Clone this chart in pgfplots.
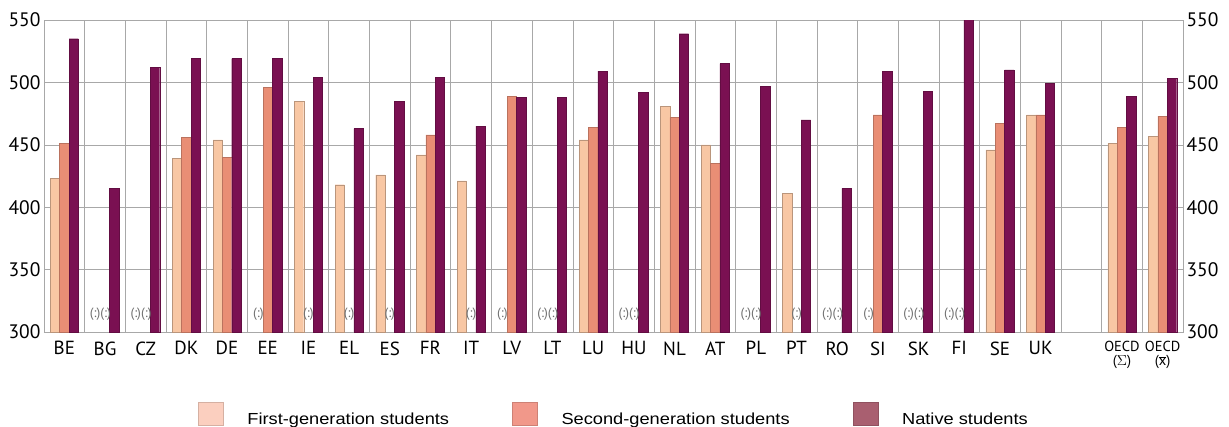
\documentclass[border=0pt]{standalone}
\usepackage{fontspec}
\setmainfont{PT Sans}
\newfontfamily\legendfont[FakeStretch=1.14]{Liberation Sans}
\usepackage{pgfplots}
\pgfplotsset{compat=1.18}

\definecolor{firstc}{HTML}{F8C7A4}
\definecolor{secondc}{HTML}{E98E75}
\definecolor{nativec}{HTML}{7A1052}
\definecolor{firstl}{HTML}{FBCFBF}
\definecolor{secondl}{HTML}{F1988A}
\definecolor{nativel}{HTML}{A95F70}
\definecolor{gridc}{HTML}{A8A8A8}
\definecolor{nac}{HTML}{6E6E6E}

\begin{document}
\begin{tikzpicture}
\path[use as bounding box] (-44pt,-94pt) rectangle (1185pt,332pt);
\begin{axis}[
    at={(0,0)}, anchor=south west,
    scale only axis, width=1139pt, height=312pt,
    xmin=-0.5, xmax=27.5, ymin=300, ymax=550,
    xtick={0,1,...,24,26,27},
    xticklabels={BE,BG,CZ,DK,DE,EE,IE,EL,ES,FR,IT,LV,LT,LU,HU,NL,AT,PL,PT,RO,SI,SK,FI,SE,UK,
        {\fontsize{14.5}{15}\selectfont\shortstack{OECD\\($\Sigma$)}},
        {\fontsize{14.5}{15}\selectfont\shortstack{OECD\\($\overline{\mbox{x}}$)}}},
    minor xtick={0.5,1.5,...,26.5},
    ytick={300,350,...,550},
    xminorgrids, ymajorgrids,
    major tick length=0pt, minor tick length=0pt,
    axis line style={gridc, line width=0.6pt},
    grid style={gridc, line width=0.6pt},
    minor grid style={gridc, line width=0.6pt},
    /pgf/number format/assume math mode=true,
    yticklabel style={font=\fontsize{19.5}{20}\selectfont},
    xticklabel style={font=\fontsize{19}{20}\selectfont, anchor=north, yshift=-6pt, inner xsep=1pt},
    legend columns=3,
    legend style={at={(0.1352,-0.2244)}, anchor=north west, draw=none, fill=none,
        inner sep=0pt, outer sep=0pt,
        font=\legendfont\fontsize{16}{18}\selectfont,
        nodes={inner sep=0pt, outer sep=0pt},
        /tikz/every odd column/.append style={column sep=24pt},
        /tikz/every even column/.append style={column sep=63pt}},
    na/.style={only marks, mark=*, mark size=0pt, mark options={draw=none, fill=none},
        nodes near coords=#1,
        nodes near coords style={anchor=center, font=\fontsize{13.5}{13.5}\selectfont, text=nac},
        forget plot},
]
% first-generation students
\addplot[ybar, bar width=0.23, bar shift=-0.23, fill=firstc, draw=firstc!75!black, line width=0.4pt, forget plot]
coordinates {(0,423) (3,439) (4,454) (6,485) (7,418) (8,426) (9,442) (10,421) (13,454)
    (15,481) (16,450) (18,411) (23,446) (24,474) (26,451) (27,457)};
% second-generation students
\addplot[ybar, bar width=0.23, bar shift=0, fill=secondc, draw=secondc!80!black, line width=0.4pt, forget plot]
coordinates {(0,451) (3,456) (4,440) (5,496) (9,458) (11,489) (13,464) (15,472) (16,435)
    (20,474) (23,467) (24,474) (26,464) (27,473)};
% native students
\addplot[ybar, bar width=0.23, bar shift=0.23, fill=nativec, draw=nativec!80!black, line width=0.4pt, forget plot]
coordinates {(0,535) (1,415) (2,512) (3,519) (4,519) (5,519) (6,504) (7,463) (8,485) (9,504)
    (10,465) (11,488) (12,488) (13,509) (14,492) (15,539) (16,515) (17,497) (18,470) (19,415)
    (20,509) (21,493) (22,554) (23,510) (24,499) (26,489) (27,503)};
% missing values
\addplot[na={(:)(:)}]
coordinates {(0.885,314) (1.885,314) (11.885,314) (13.885,314) (16.885,314) (18.885,314) (20.885,314) (21.885,314)};
\addplot[na={(:)}]
coordinates {(4.77,314) (10.77,314) (19.77,314) (6,314) (7,314) (8,314) (10,314) (18,314)};

\addlegendimage{legend image code/.code={\filldraw[fill=firstl, draw=firstl!85!black, line width=0.4pt] (0pt,-5.7pt) rectangle (25pt,17.3pt);}}
\addlegendentry{First-generation students}
\addlegendimage{legend image code/.code={\filldraw[fill=secondl, draw=secondl!85!black, line width=0.4pt] (0pt,-5.7pt) rectangle (25pt,17.3pt);}}
\addlegendentry{Second-generation students}
\addlegendimage{legend image code/.code={\filldraw[fill=nativel, draw=nativel!85!black, line width=0.4pt] (0pt,-5.7pt) rectangle (25pt,17.3pt);}}
\addlegendentry{Native students}
\end{axis}
\begin{axis}[
    at={(0,0)}, anchor=south west,
    scale only axis, width=1139pt, height=312pt,
    xmin=-0.5, xmax=27.5, ymin=300, ymax=550,
    hide x axis, axis y line*=right,
    axis line style={draw=none},
    ytick={300,350,...,550},
    major tick length=0pt,
    /pgf/number format/assume math mode=true,
    yticklabel style={font=\fontsize{19.5}{20}\selectfont},
]
\end{axis}
\end{tikzpicture}
\end{document}
